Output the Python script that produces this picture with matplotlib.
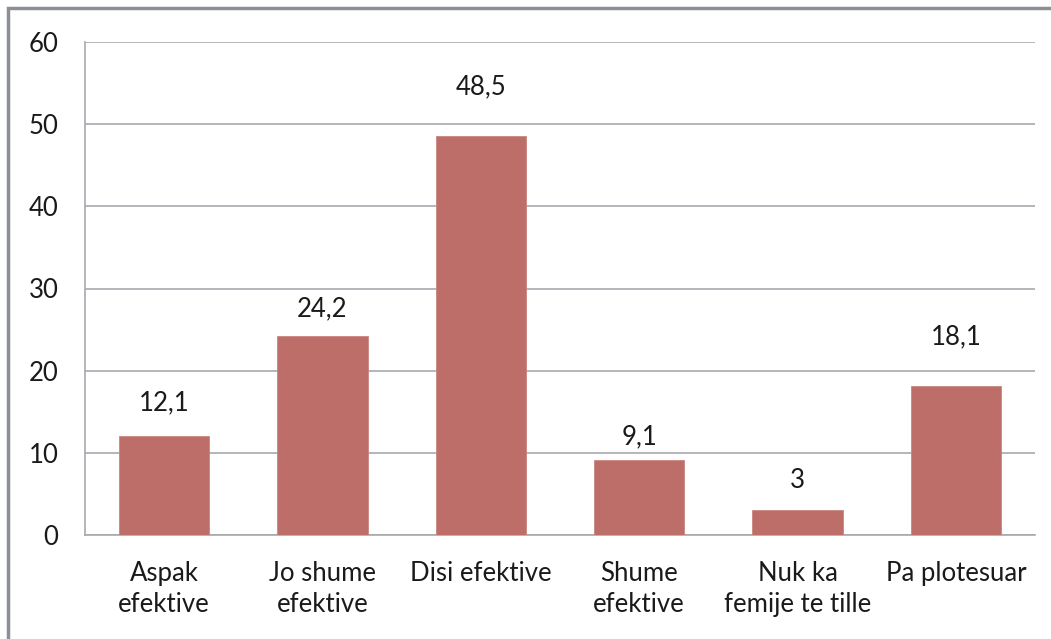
import matplotlib.pyplot as plt
from matplotlib.patches import Rectangle

categories = ['Aspak\nefektive', 'Jo shume\nefektive', 'Disi efektive',
              'Shume\nefektive', 'Nuk ka\nfemije te tille', 'Pa plotesuar']
values = [12.1, 24.2, 48.5, 9.1, 3, 18.1]
# excel placed the value labels at uneven heights above the bars (pixels)
label_offsets = [33, 27, 50, 23, 30, 49]

plt.rcParams['font.family'] = ['Lato', 'DejaVu Sans']
FS = 18.5

fig = plt.figure(figsize=(10.51, 6.39), dpi=100)
ax = fig.add_axes([85 / 1051, 1 - 535 / 639, 950 / 1051, 493 / 639])

# outer chart frame (cut off at right/bottom in the original)
fig.patches.append(Rectangle((8 / 1051, -0.1), 1.2, 1 - 8 / 639 + 0.1,
                             transform=fig.transFigure, fill=False,
                             edgecolor='#8c8f94', linewidth=2.5))

x = range(len(values))
bars = ax.bar(x, values, width=0.57, color='#be6e68', edgecolor='#c98680',
              linewidth=0.6, zorder=3)

for i, v in enumerate(values):
    txt = ('%g' % v).replace('.', ',')
    ax.annotate(txt, (i, v), xytext=(0, label_offsets[i]),
                textcoords='offset pixels', ha='center', va='center',
                fontsize=FS, color='#1a1a1a')

ax.set_xlim(-0.5, len(values) - 0.5)
ax.set_ylim(0, 60)
ax.set_yticks(range(0, 61, 10))
ax.yaxis.grid(True, color='#a6a9ae', linewidth=1.2, zorder=0)
ax.set_xticks(list(x))
ax.set_xticklabels(categories, fontsize=FS, color='#1a1a1a', linespacing=1.3)
ax.tick_params(axis='y', labelsize=FS, labelcolor='#1a1a1a', length=0, pad=19)
ax.tick_params(axis='x', length=0, pad=19)

for s in ['top', 'right']:
    ax.spines[s].set_visible(False)
for s in ['left', 'bottom']:
    ax.spines[s].set_color('#a6a9ae')
    ax.spines[s].set_linewidth(1.2)

fig.savefig('out.png', dpi=100)
